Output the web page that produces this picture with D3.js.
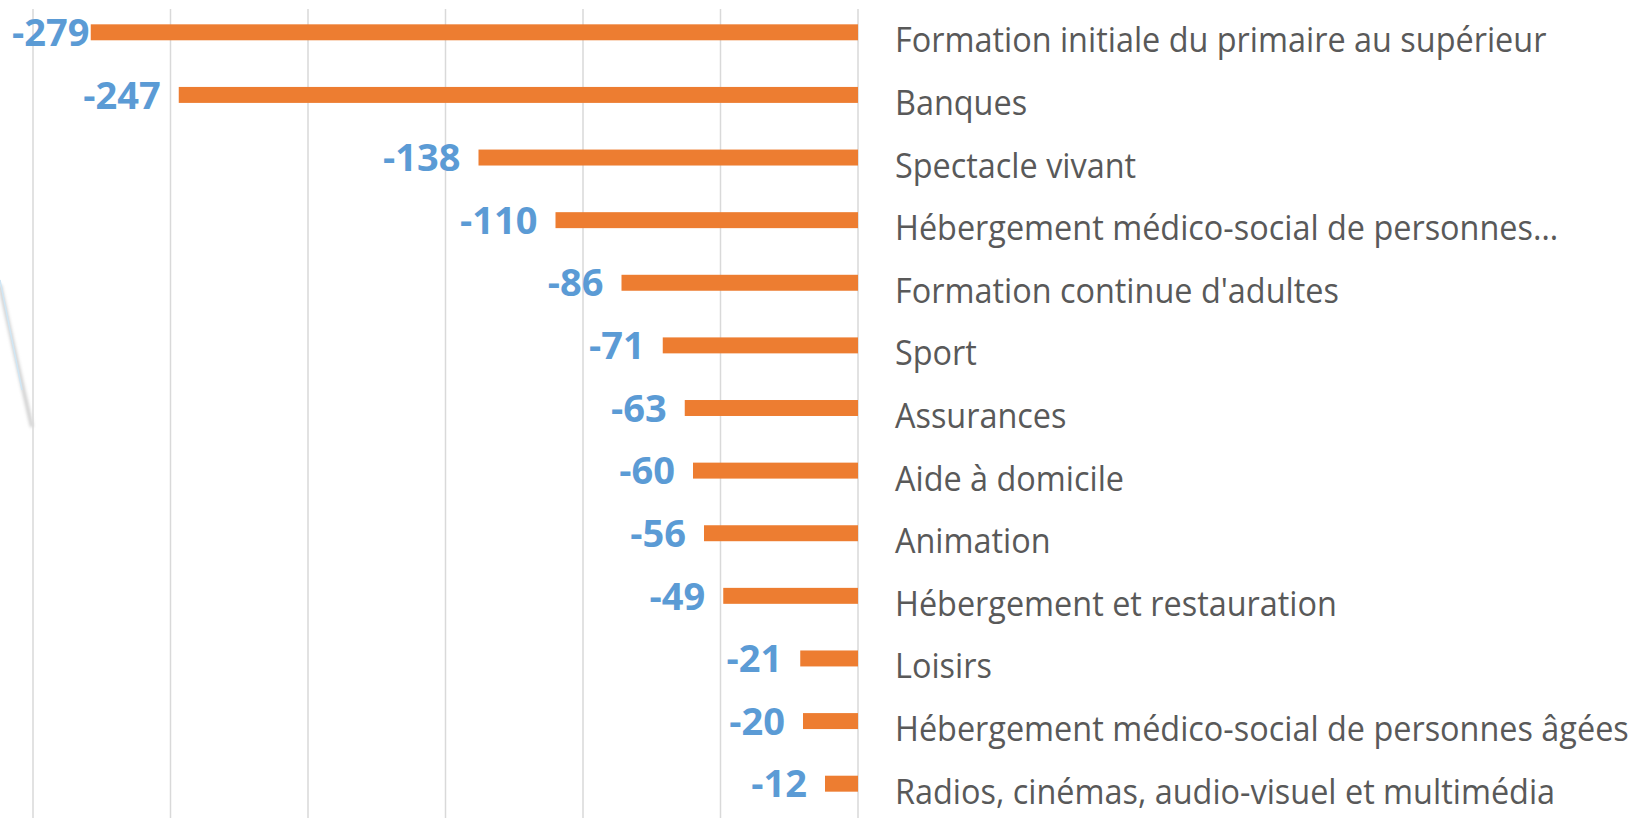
<!DOCTYPE html>
<html>
<head>
<meta charset="utf-8">
<script src="https://cdn.jsdelivr.net/npm/d3@7"></script>
<style>
  html, body { margin: 0; padding: 0; background: #fff; }
  svg { display: block; }
</style>
</head>
<body>
<svg id="chart" width="1648" height="818"></svg>
<script>
const categories = [
  'Formation initiale du primaire au supérieur',
  'Banques',
  'Spectacle vivant',
  'Hébergement médico-social de personnes…',
  "Formation continue d'adultes",
  'Sport',
  'Assurances',
  'Aide à domicile',
  'Animation',
  'Hébergement et restauration',
  'Loisirs',
  'Hébergement médico-social de personnes âgées',
  'Radios, cinémas, audio-visuel et multimédia'
]
const values = [-279, -247, -138, -110, -86, -71, -63, -60, -56, -49, -21, -20, -12]
const xDomain = [-300, 0]

const width = 1648
const height = 818
const svg = d3.select('#chart')

const x = d3.scaleLinear().domain(xDomain).range([33, 858])
const y = d3.scaleBand().domain(categories).range([1, 815])
  .paddingInner(0.745).paddingOuter(0.3725)

// faint decoration on the left edge
const defs = svg.append('defs')
defs.append('filter').attr('id', 'soft')
  .append('feGaussianBlur').attr('stdDeviation', 1.6)
svg.append('path')
  .attr('d', 'M0,285 Q14,350 32,427')
  .attr('fill', 'none')
  .attr('stroke', '#c8c8c8').attr('stroke-width', 4).attr('stroke-opacity', 0.8)
  .attr('filter', 'url(#soft)')
svg.append('path')
  .attr('d', 'M0,280 Q12,340 22,390')
  .attr('fill', 'none')
  .attr('stroke', '#cfe6f5').attr('stroke-width', 1.5)

// gridlines
svg.append('g').selectAll('line')
  .data(x.ticks(6))
  .join('line')
  .attr('x1', d => x(d)).attr('x2', d => x(d))
  .attr('y1', 9).attr('y2', height)
  .attr('stroke', '#d9d9d9')
  .attr('stroke-width', 1.5)

// bars
svg.append('g').selectAll('rect')
  .data(values)
  .join('rect')
  .attr('x', d => x(d))
  .attr('y', (d, i) => y(categories[i]))
  .attr('width', d => x(0) - x(d))
  .attr('height', y.bandwidth())
  .attr('fill', '#ed7d31')

// value labels
const vFont = 38
const vLabels = svg.append('g').selectAll('text')
  .data(values)
  .join('text')
  .attr('font-family', '"Open Sans", sans-serif')
  .attr('font-weight', 700)
  .attr('font-size', vFont)
  .attr('fill', '#5b9bd5')
  .attr('y', (d, i) => y(categories[i]) + y.bandwidth() / 2 + vFont * 0.36)
  .text(d => d)
vLabels.each(function (d) {
  const w = this.getComputedTextLength()
  let right = x(d) - 18
  if (right - w < 12) right = 12 + w
  d3.select(this).attr('x', right).attr('text-anchor', 'end')
})

// category labels, squeezed to the width of the original condensed face
const cFont = 35
const cLabels = svg.append('g').selectAll('text')
  .data(categories)
  .join('text')
  .attr('font-family', '"Open Sans", sans-serif')
  .attr('font-size', cFont)
  .attr('fill', '#595959')
  .text(d => d)
const longest = d3.max(cLabels.nodes(), n => n.getComputedTextLength())
const sx = 734 / longest
cLabels.attr('transform', d => `translate(895,${y(d) + y.bandwidth() / 2 + 20}) scale(${sx},1)`)
</script>
</body>
</html>
